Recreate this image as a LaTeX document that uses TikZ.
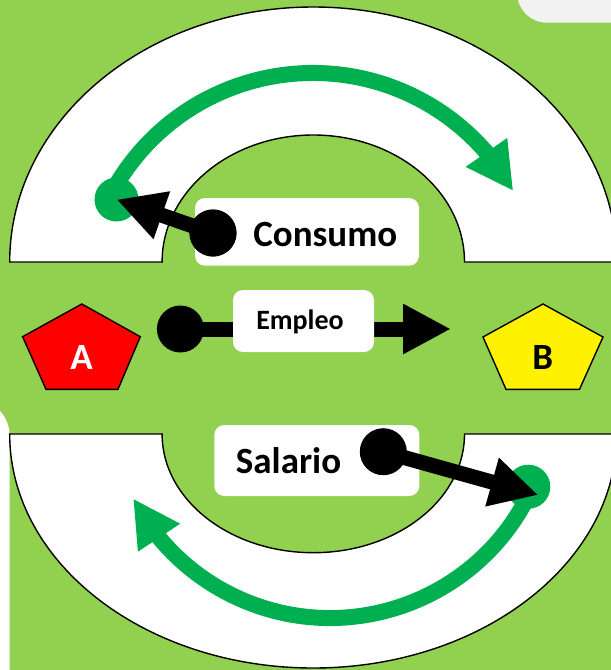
\documentclass[tikz,border=0pt]{standalone}
\usepackage{fontspec}
\setmainfont{Carlito}
\usetikzlibrary{arrows.meta,bending}
\definecolor{bg}{HTML}{92D050}
\definecolor{garrow}{HTML}{00B050}
\definecolor{lgray}{HTML}{F2F2F2}
\begin{document}
\begin{tikzpicture}[x=1pt,y=-1pt,
  archshape/.style={fill=white,draw=black,line width=1.4pt},
  textbox/.style={fill=white,rounded corners=10pt,inner sep=0pt},
  blackdot/.style={circle,fill=black,minimum size=47pt,inner sep=0pt},
  greendot/.style={circle,fill=garrow,minimum size=44pt,inner sep=0pt},
  blackarrow/.style={draw=black,line width=15pt,-{Triangle[length=48pt,width=47pt]}},
  greenarrow/.style={draw=garrow,line width=16pt,-{Triangle[length=47pt,width=47pt]}},
  pent/.style={draw=black,line width=1.4pt,line join=miter},
  bigtext/.style={font=\bfseries\fontsize{37}{40}\selectfont,inner sep=0pt,anchor=base},
  smalltext/.style={font=\bfseries\fontsize{28}{32}\selectfont,inner sep=0pt,anchor=base},
]
\useasboundingbox (0,0) rectangle (611,670);
\clip (0,0) rectangle (611,670);
\fill[bg] (0,0) rectangle (611,670);
\fill[lgray,rounded corners=30pt] (517,-40) rectangle (660,22.7);
\fill[white,rounded corners=35pt] (-60,400) rectangle (9.5,720);

% top arch
\draw[archshape] (9.7,262) arc[start angle=180,end angle=360,x radius=303.6,y radius=255]
  -- (464.5,262) arc[start angle=0,end angle=-180,x radius=151.2,y radius=127] -- cycle;
% bottom arch
\draw[archshape] (9.7,434) arc[start angle=180,end angle=0,x radius=303.6,y radius=234]
  -- (464.5,434) arc[start angle=0,end angle=180,x radius=151.2,y radius=118.7] -- cycle;

% green cycle arrows
\node[greendot] (g1) at (116.5,199.5) {};
\path (313,302) ++(209:229) coordinate (gs1);
\draw[greenarrow] (gs1) arc[start angle=209,end angle=331,radius=229];
\node[greendot] (g2) at (528.3,486.7) {};
\path (330,396) ++(24.5:222) coordinate (gs2);
\draw[greenarrow] (gs2) arc[start angle=24.5,end angle=152.5,radius=222];

% pentagons
\draw[pent,fill=red] (81.8,304) -- (140.3,336.7) -- (118,389.3) -- (46,389.3) -- (22.6,336.7) -- cycle;
\draw[pent,fill=yellow] (543,304) -- (603,337) -- (579.5,389.3) -- (506,389.3) -- (483,337) -- cycle;
\node[bigtext,text=white] (A) at (81.5,369.3) {A};
\node[bigtext,text=black] (B) at (542.7,369.3) {B};

% Empleo
\node[blackdot] (edot) at (180.4,329) {};
\coordinate (etip) at (451,329);
\draw[blackarrow] (edot.center) -- (etip);
\node[textbox,minimum width=141pt,minimum height=62pt] (ebox) at (303.5,321) {};
\node[smalltext] (empleo) at (300,329) {Empleo};

% Consumo
\node[textbox,minimum width=224pt,minimum height=67.7pt] (cbox) at (307,231.85) {};
\node[bigtext] (consumo) at (325.3,246.7) {Consumo};
\node[blackdot] (cdot) at (213,233) {};
\draw[blackarrow] (cdot.center) -- (g1.center);
\node[blackdot] at (cdot) {};

% Salario
\node[textbox,minimum width=205pt,minimum height=71pt] (sbox) at (316.8,460.5) {};
\node[bigtext] (salario) at (288.5,473.3) {Salario};
\node[blackdot] (sdot) at (383.3,451.7) {};
\coordinate (stip) at (538.3,495);
\draw[blackarrow] (sdot.center) -- (stip);
\end{tikzpicture}
\end{document}
